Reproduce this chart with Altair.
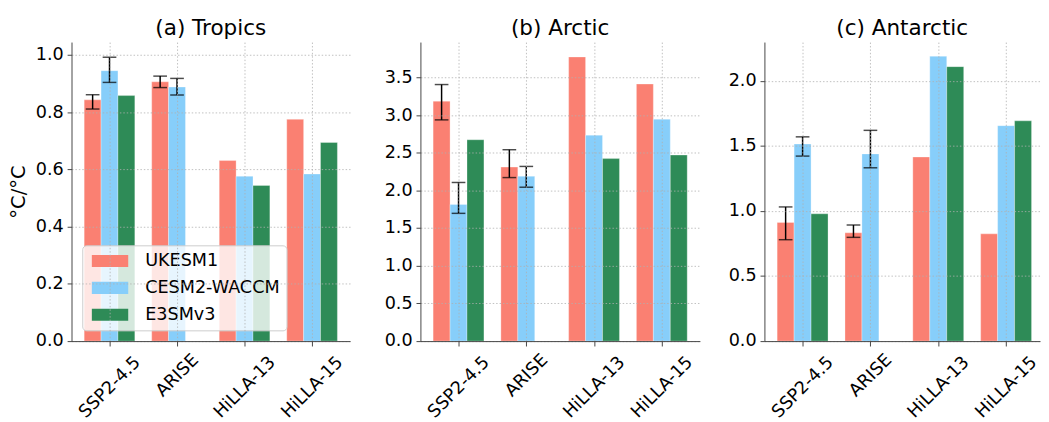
import pandas as pd
import altair as alt

scenarios = ["SSP2-4.5", "ARISE", "HiLLA-13", "HiLLA-15"]
models = ["UKESM1", "CESM2-WACCM", "E3SMv3"]
colors = ["#FA8072", "#87CEFA", "#2E8B57"]

# bar heights per model, one value per scenario (None = no bar)
tropics_uk = [0.843, 0.906, 0.631, 0.775]
tropics_cesm = [0.945, 0.888, 0.576, 0.584]
tropics_e3sm = [0.858, None, 0.544, 0.694]
tropics_uk_lo = [0.811, 0.886, None, None]
tropics_uk_hi = [0.861, 0.926, None, None]
tropics_cesm_lo = [0.904, 0.860, None, None]
tropics_cesm_hi = [0.992, 0.918, None, None]

arctic_uk = [3.185, 2.310, 3.772, 3.413]
arctic_cesm = [1.815, 2.189, 2.734, 2.946]
arctic_e3sm = [2.673, None, 2.423, 2.470]
arctic_uk_lo = [2.937, 2.171, None, None]
arctic_uk_hi = [3.406, 2.541, None, None]
arctic_cesm_lo = [1.696, 2.043, None, None]
arctic_cesm_hi = [2.106, 2.319, None, None]

antarctic_uk = [0.913, 0.833, 1.416, 0.825]
antarctic_cesm = [1.516, 1.440, 2.191, 1.657]
antarctic_e3sm = [0.979, None, 2.111, 1.694]
antarctic_uk_lo = [0.780, 0.798, None, None]
antarctic_uk_hi = [1.032, 0.893, None, None]
antarctic_cesm_lo = [1.423, 1.333, None, None]
antarctic_cesm_hi = [1.571, 1.621, None, None]

regions = {
    "tropics": ([tropics_uk, tropics_cesm, tropics_e3sm],
                [(tropics_uk_lo, tropics_uk_hi), (tropics_cesm_lo, tropics_cesm_hi), None]),
    "arctic": ([arctic_uk, arctic_cesm, arctic_e3sm],
               [(arctic_uk_lo, arctic_uk_hi), (arctic_cesm_lo, arctic_cesm_hi), None]),
    "antarctic": ([antarctic_uk, antarctic_cesm, antarctic_e3sm],
                  [(antarctic_uk_lo, antarctic_uk_hi), (antarctic_cesm_lo, antarctic_cesm_hi), None]),
}

bar_w = 0.25
rows = []
for reg, (vals, errs) in regions.items():
    for j, m in enumerate(models):
        off = (j - 1) * bar_w
        for i, s in enumerate(scenarios):
            v = vals[j][i]
            if v is None:
                continue
            lo = hi = None
            if errs[j] is not None:
                lo, hi = errs[j][0][i], errs[j][1][i]
            rows.append({"region": reg, "scenario": s, "model": m, "value": v,
                         "x0": i + off - bar_w / 2, "x1": i + off + bar_w / 2,
                         "xc": i + off, "lo": lo, "hi": hi})
df = pd.DataFrame(rows)

label_expr = "[" + ",".join("'%s'" % s for s in scenarios) + "][round(datum.value)]"
grid_dash = [1.5, 2]


def panel(reg, title, ymax, yticks, width, xmax, ytitle=None, legend=False):
    d = df[df.region == reg]
    e = d.dropna(subset=["lo"])
    xs = alt.Scale(domain=[-0.5625, xmax], nice=False, zero=False)
    ys = alt.Scale(domain=[0, ymax], nice=False)
    xaxis = alt.Axis(values=[0, 1, 2, 3], labelExpr=label_expr, labelAngle=-45,
                     labelAlign="center", labelBaseline="middle", labelOverlap=False,
                     labelPadding={"condition": {"test": "datum.value == 1", "value": 30},
                                   "value": 42},
                     tickSize=5, gridDash=grid_dash, zindex=1)
    yaxis = alt.Axis(values=yticks, format=".1f", tickSize=4.5, labelPadding=4,
                     labelOverlap=False, titlePadding=7, gridDash=grid_dash, zindex=1)
    if legend:
        leg = alt.Legend(title=None, orient="none", legendX=11, legendY=208,
                         symbolType="M-3,-1H3V1H-3Z", symbolSize=154, symbolOffset=12.4,
                         symbolStrokeWidth=0, labelFontSize=18, labelOffset=27,
                         rowPadding=9.5, padding=7, fillColor="rgba(255,255,255,0.8)",
                         strokeColor="#cccccc", cornerRadius=4)
    else:
        leg = None
    bars = alt.Chart(d).mark_bar(stroke="white", strokeWidth=0.6, strokeOpacity=0.5).encode(
        x=alt.X("x0:Q", scale=xs, axis=xaxis, title=None),
        x2="x1",
        y=alt.Y("value:Q", scale=ys, axis=yaxis, title=ytitle),
        y2=alt.datum(0),
        color=alt.Color("model:N", scale=alt.Scale(domain=models, range=colors), legend=leg),
    )
    rule = alt.Chart(e).mark_rule(color="black", strokeWidth=1.5).encode(
        x=alt.X("xc:Q", title=None), y=alt.Y("lo:Q", title=ytitle), y2="hi"
    )
    caps = alt.Chart(e).transform_fold(["lo", "hi"], as_=["end", "v"]).mark_tick(
        orient="horizontal", size=14, thickness=1.5, color="black"
    ).encode(x=alt.X("xc:Q", title=None), y=alt.Y("v:Q", title=ytitle))
    return alt.layer(bars, rule, caps).properties(width=width, height=306, title=title)


pa = panel("tropics", "(a) Tropics", 1.045, [0, 0.2, 0.4, 0.6, 0.8, 1.0], 285, 3.5625,
           ytitle="°C/°C", legend=True)
pb = panel("arctic", "(b) Arctic", 3.97, [0, 0.5, 1.0, 1.5, 2.0, 2.5, 3.0, 3.5], 286, 3.5625)
pc = panel("antarctic", "(c) Antarctic", 2.30, [0, 0.5, 1.0, 1.5, 2.0], 282, 3.5)

chart = (
    alt.hconcat(pa, alt.hconcat(pb, pc, spacing=28), spacing=34)
    .resolve_scale(color="independent")
    .properties(padding={"left": 0, "top": 5, "right": 0, "bottom": 0})
    .configure(font="DejaVu Sans")
    .configure_view(strokeWidth=0)
    .configure_axis(labelFontSize=18, titleFontSize=20, titleFontWeight="normal",
                    labelColor="black", titleColor="black", domainColor="#444444",
                    tickColor="#444444", gridColor="#b0b0b0", gridWidth=0.8)
    .configure_title(fontSize=22, fontWeight="normal", offset=2, color="black")
)

chart.save("out.html", embed_options={"renderer": "svg", "actions": False})
